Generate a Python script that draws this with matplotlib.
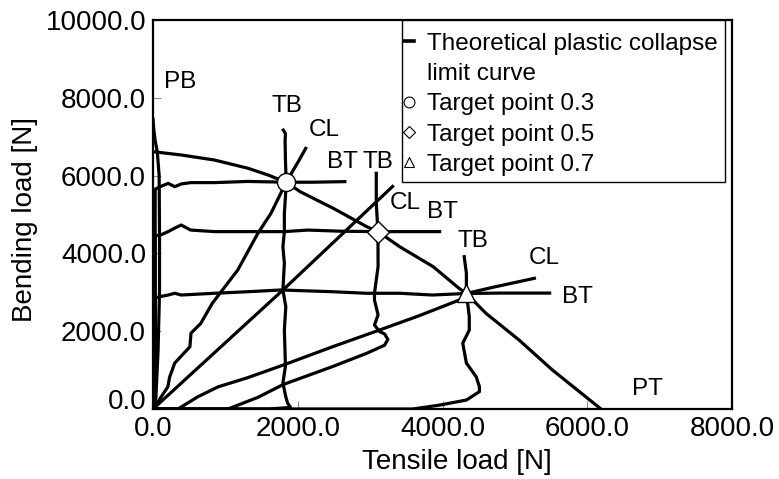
import matplotlib
matplotlib.use('Agg')
import matplotlib.pyplot as plt
from matplotlib.lines import Line2D
from matplotlib.patches import Rectangle

plt.rcParams['font.family'] = ['Liberation Sans', 'DejaVu Sans']

# theoretical plastic collapse limit curve
theory_T = [0, 390, 850, 1310, 1590, 1840, 2030, 2490, 2950, 3108, 3410, 3870, 4230, 4330, 4600, 5060, 5520, 6190]
theory_B = [6615, 6530, 6400, 6190, 6015, 5830, 5590, 5160, 4690, 4560, 4170, 3660, 3100, 2970, 2460, 1770, 1000, 0]

# PB path
pb_T = [0, 40, 70, 90, 90, 85, 60, 30, 10, 0]
pb_B = [0, 300, 1500, 3000, 4500, 6000, 6600, 6900, 7200, 7450]

# BT paths (bending first, then tension)
bt3_T = [0, 30, 30, 100, 210, 300, 390, 525, 855, 1310, 1840, 2200, 2650]
bt3_B = [0, 300, 5650, 5715, 5800, 5715, 5785, 5820, 5820, 5850, 5830, 5830, 5845]
bt5_T = [0, 30, 30, 100, 210, 300, 390, 520, 850, 1310, 1815, 2140, 2600, 3108, 3500, 3960]
bt5_B = [0, 300, 4450, 4470, 4560, 4650, 4730, 4600, 4560, 4560, 4560, 4600, 4570, 4560, 4560, 4560]
bt7_T = [0, 30, 30, 100, 210, 300, 390, 850, 1310, 1770, 2480, 2950, 3410, 3860, 4330, 4800, 5480]
bt7_B = [0, 300, 2850, 2890, 2930, 2975, 2930, 2975, 3015, 3060, 3015, 2975, 2975, 2930, 2970, 2980, 2980]

# TB paths (tension first, then bending)
tb3_T = [0, 1600, 1900, 1860, 1835, 1795, 1830, 1815, 1835, 1795, 1815, 1795, 1815, 1815, 1830, 1840, 1830, 1825, 1830, 1800]
tb3_B = [0, 0, 40, 150, 310, 670, 1100, 2030, 2630, 3060, 3750, 4170, 4560, 5030, 5460, 5830, 6400, 6900, 7080, 7170]
tb5_T = [0, 1035, 1450, 1800, 2480, 2950, 3200, 3245, 3200, 3130, 3060, 3110, 3060, 3060, 3110, 3108, 3085, 3085]
tb5_B = [0, 0, 300, 630, 1090, 1430, 1640, 1790, 1930, 1990, 2160, 2420, 2800, 2975, 3660, 4560, 5290, 6060]
tb7_T = [0, 3000, 3590, 3960, 4330, 4510, 4510, 4465, 4330, 4280, 4370, 4370, 4345, 4330, 4330, 4300]
tb7_B = [0, 0, 0, 100, 230, 445, 575, 830, 1180, 1690, 2030, 2370, 2760, 2970, 3490, 3915]

# CL paths (combined loading)
cl3_T = [0, 20, 205, 230, 300, 510, 525, 660, 820, 1170, 1450, 1630, 1840, 2020, 2110]
cl3_B = [0, 50, 570, 820, 1180, 1600, 1950, 2200, 2720, 3570, 4520, 5030, 5830, 6400, 6700]
cl5_T = [0, 1790, 3310]
cl5_B = [0, 3050, 5720]
cl7_T = [0, 345, 620, 900, 1300, 1800, 2480, 3130, 3680, 4230, 4330, 4700, 5270]
cl7_B = [0, 0, 315, 570, 800, 1130, 1600, 2030, 2400, 2800, 2970, 3130, 3360]

# target points
target_T = [1840, 3108, 4330]
target_B = [5830, 4560, 2970]
target_names = ['Target point 0.3', 'Target point 0.5', 'Target point 0.7']
target_markers = ['o', 'D', '^']

# path labels
label_text = ['PB', 'TB', 'CL', 'BT', 'TB', 'CL', 'BT', 'TB', 'CL', 'BT', 'PT']
label_T = [372, 1844, 2372, 2614, 3103, 3487, 3993, 4418, 5407, 5866, 6832]
label_B = [8414, 7794, 7172, 6358, 6358, 5288, 5073, 4322, 3894, 2888, 510]

fig = plt.figure(figsize=(7.79, 4.79), dpi=100)
ax = fig.add_axes([153 / 779, 1 - 409 / 479, 579 / 779, 389 / 479])

lw = 2.3
ax.plot(theory_T, theory_B, color='black', lw=lw, zorder=3)
for xs, ys in [(pb_T, pb_B), (bt3_T, bt3_B), (bt5_T, bt5_B), (bt7_T, bt7_B),
               (tb3_T, tb3_B), (tb5_T, tb5_B), (tb7_T, tb7_B),
               (cl3_T, cl3_B), (cl5_T, cl5_B), (cl7_T, cl7_B)]:
    ax.plot(xs, ys, color='black', lw=lw, solid_joinstyle='round', zorder=2)

sizes = [13, 11, 13]
for t, b, m, s in zip(target_T, target_B, target_markers, sizes):
    ax.plot(t, b, marker=m, ms=s, mfc='white', mec='black', mew=1.0, ls='none', zorder=5)

for txt, t, b in zip(label_text, label_T, label_B):
    ax.text(t, b, txt, fontsize=17.5, ha='center', va='center')

ax.set_xlim(0, 8000)
ax.set_ylim(0, 10000)
ax.set_xticks([0, 2000, 4000, 6000, 8000])
ax.set_yticks([0, 2000, 4000, 6000, 8000, 10000])
ax.xaxis.set_major_formatter(matplotlib.ticker.FormatStrFormatter('%.1f'))
ax.yaxis.set_major_formatter(matplotlib.ticker.FormatStrFormatter('%.1f'))
ax.tick_params(direction='in', length=6, width=0.8, color='0.55', labelsize=20, pad=5)
ax.get_yticklabels()[0].set_va('baseline')
for sp in ax.spines.values():
    sp.set_linewidth(1.6)

fig.text(457 / 779, 1 - 462 / 479, 'Tensile load [N]', fontsize=20, ha='center', va='center')
fig.text(25 / 779, 1 - 220 / 479, 'Bending load [N]', fontsize=20, ha='center', va='center', rotation=90)

# legend: curve entry split over two rows so the dash sits on the first line
handles = [Line2D([0], [0], color='black', lw=2.6), Line2D([0], [0], color='none')]
for m, s in zip(target_markers, sizes):
    handles.append(Line2D([0], [0], marker=m, ms=s * 0.6, mfc='white', mec='black', mew=0.8, ls='none'))
names = ['Theoretical plastic collapse', 'limit curve'] + target_names
leg = ax.legend(handles, names, loc='upper left', bbox_to_anchor=(399 / 779, 1 - 28 / 479),
                bbox_transform=fig.transFigure, fontsize=17.5, frameon=False,
                handlelength=0.42, handletextpad=0.55, labelspacing=0.34, borderpad=0.2,
                borderaxespad=0)
leg.set_zorder(10)
box = Rectangle((402 / 779, 1 - 182 / 479), 323 / 779, 162 / 479, transform=fig.transFigure,
                facecolor='white', edgecolor='black', lw=1.0, zorder=9)
ax.add_patch(box)
box.set_clip_on(False)

fig.savefig('out.png', dpi=100)
